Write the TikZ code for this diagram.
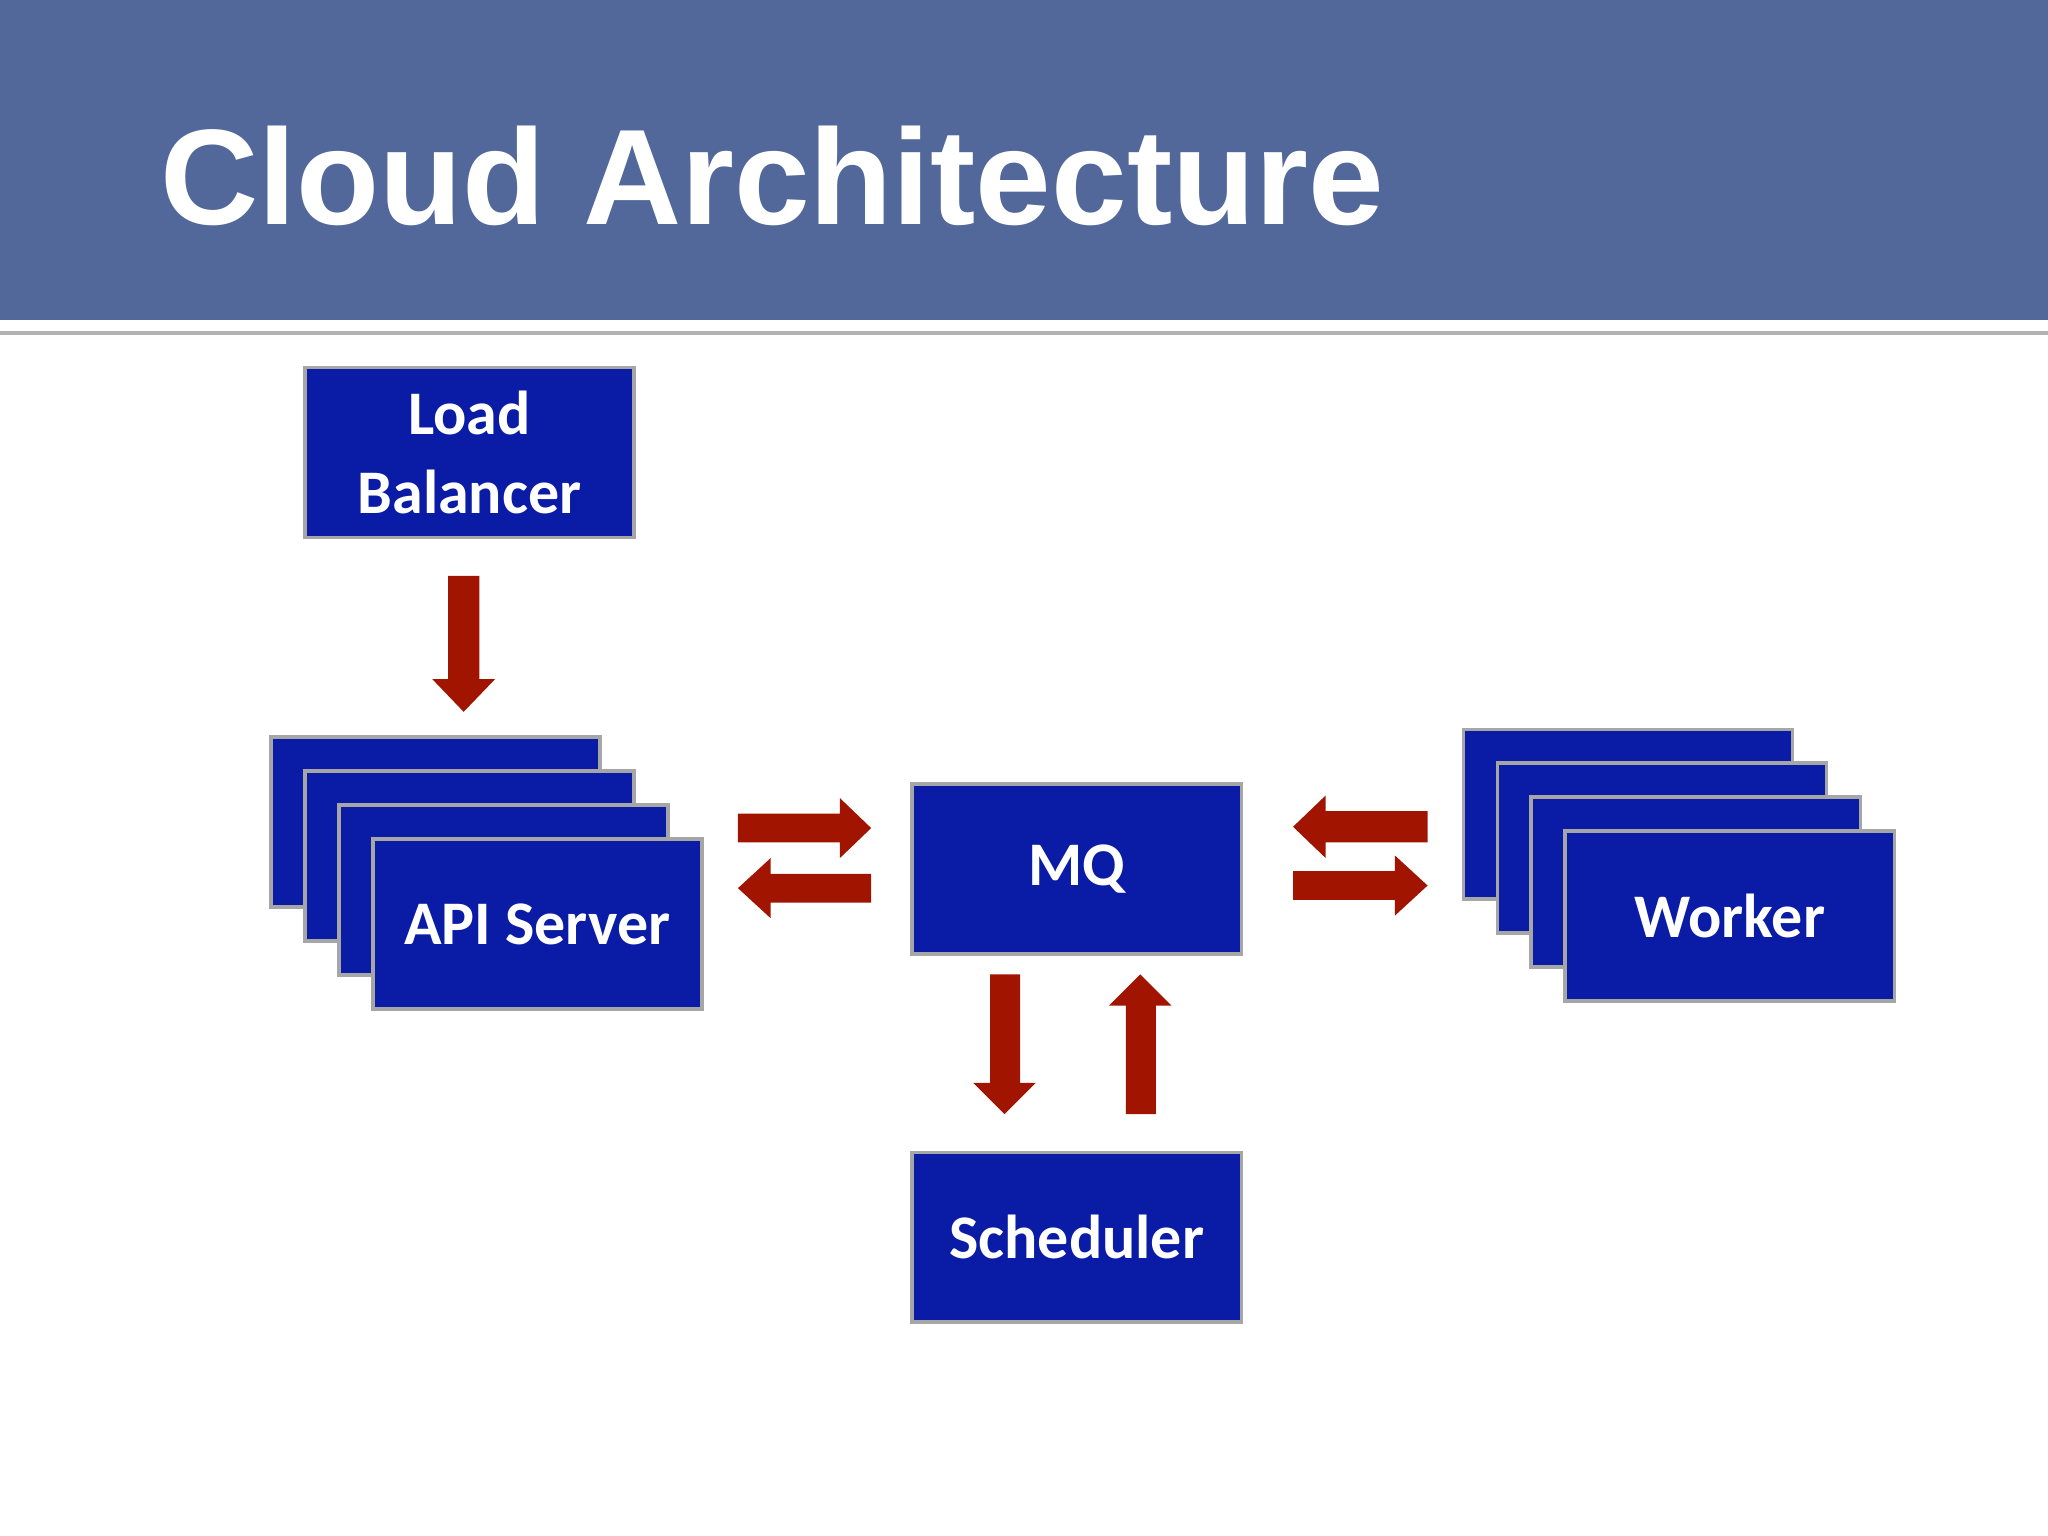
\documentclass[tikz,border=0pt]{standalone}
\usepackage{fontspec}
\setmainfont{Carlito}
\newfontfamily\titlefont{Liberation Sans}
\definecolor{band}{HTML}{52679A}
\definecolor{boxblue}{HTML}{0A1CA6}
\definecolor{arr}{HTML}{A01400}
\begin{document}
\begin{tikzpicture}[x=0.01cm,y=-0.01cm,
  box/.style={draw=gray!70,line width=0.8pt,fill=boxblue,text=white,font=\bfseries\fontsize{13.5}{17}\selectfont,align=center,inner sep=0},
  barrow/.style={fill=arr,draw=none}]
\useasboundingbox (0,0) rectangle (1568,1176);
\fill[band] (0,0) rectangle (1568,245);
\draw[gray!60,line width=0.8pt] (0,255) -- (1568,255);
\node[anchor=base west,text=white,font=\titlefont\bfseries\fontsize{29.6}{34}\selectfont,inner sep=0] (title) at (122,172) {Cloud Architecture};
\newcommand\bx[4]{\node[box,minimum width=252*0.01cm,minimum height=130*0.01cm,anchor=north west] (#1) at (#2+1,#3+1) {#4};}
\bx{lb}{231}{279}{Load\\Balancer}
\bx{api1}{205}{562}{}
\bx{api2}{231}{588}{}
\bx{api3}{257}{614}{}
\bx{api}{283}{640}{API Server}
\bx{mq}{696}{598}{MQ}
\bx{w1}{1118}{556}{}
\bx{w2}{1144}{582}{}
\bx{w3}{1170}{608}{}
\bx{w}{1196}{634}{Worker}
\bx{sch}{696}{880}{Scheduler}
\fill[barrow] (343,441) -- (367,441) -- (367,520) -- (379,520) -- (355,545) -- (331,520) -- (343,520) -- cycle;
\fill[barrow] (565,623) -- (643,623) -- (643,611) -- (667,634) -- (643,657) -- (643,645) -- (565,645) -- cycle;
\fill[barrow] (667,669) -- (590,669) -- (590,657) -- (565,680) -- (590,703) -- (590,691) -- (667,691) -- cycle;
\fill[barrow] (1093,621) -- (1015,621) -- (1015,609) -- (990,633) -- (1015,657) -- (1015,645) -- (1093,645) -- cycle;
\fill[barrow] (990,667) -- (1068,667) -- (1068,655) -- (1093,678) -- (1068,701) -- (1068,689) -- (990,689) -- cycle;
\fill[barrow] (758,746) -- (781,746) -- (781,829) -- (793,829) -- (769,853) -- (745,829) -- (758,829) -- cycle;
\fill[barrow] (862,853) -- (885,853) -- (885,770) -- (897,770) -- (873,746) -- (849,770) -- (862,770) -- cycle;
\end{tikzpicture}
\end{document}
